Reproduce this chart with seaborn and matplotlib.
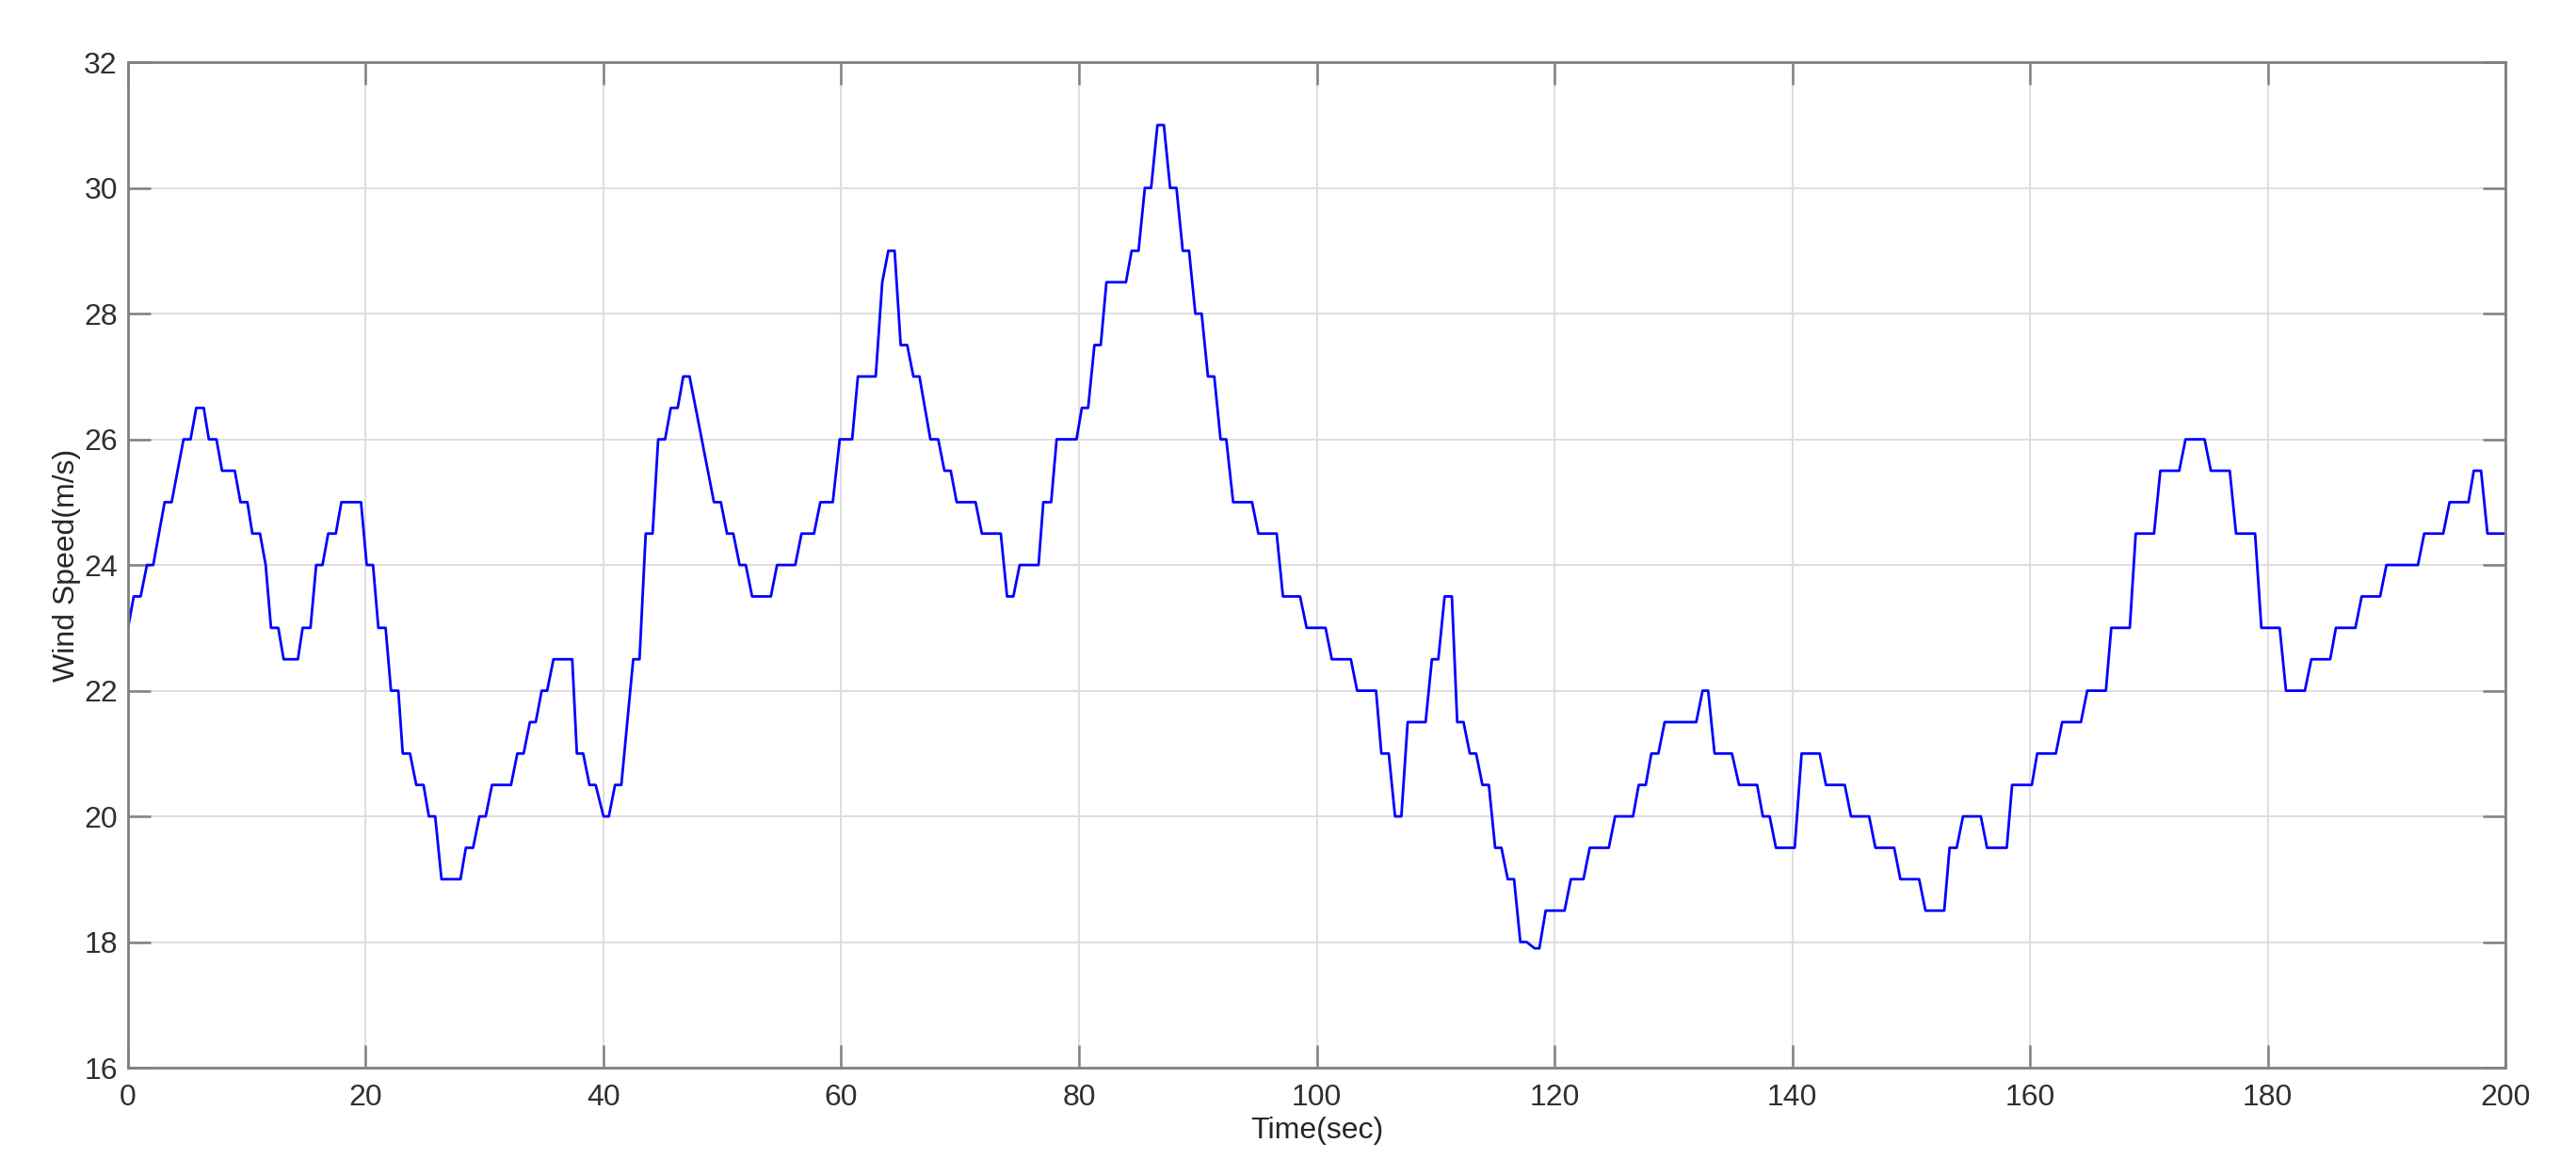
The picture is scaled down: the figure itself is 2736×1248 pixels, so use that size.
import numpy as np
import pandas as pd
import seaborn as sns
import matplotlib.pyplot as plt

# breakpoints of the wind speed trace (time in sec, speed in m/s)
time_sec = [
    0, 0.48, 1.06, 1.59, 2.12, 3.08, 3.67, 4.67, 5.26, 5.74, 6.37, 6.80, 7.44, 7.91,
    8.98, 9.46, 10.04, 10.46, 11.10, 11.58, 12.03, 12.64, 13.09, 14.29, 14.69, 15.35,
    15.83, 16.36, 16.84, 17.48, 17.95, 19.60, 20.08, 20.61, 21.06, 21.67, 22.12, 22.74,
    23.11, 23.72, 24.25, 24.86, 25.31, 25.84, 26.37, 27.97, 28.42, 29.03, 29.56, 30.09,
    30.62, 32.22, 32.75, 33.28, 33.81, 34.30, 34.80, 35.26, 35.79, 37.37, 37.76, 38.29,
    38.82, 39.34, 40.0, 40.45, 40.97, 41.5, 42.5, 43.03, 43.55, 44.13, 44.6, 45.18,
    45.66, 46.24, 46.71, 47.24, 49.29, 49.87, 50.39, 50.92, 51.45, 51.97, 52.5, 54.08,
    54.6, 56.13, 56.66, 57.71, 58.24, 59.29, 59.87, 60.92, 61.4, 62.9, 63.45, 63.96,
    64.49, 65.0, 65.55, 66.07, 66.58, 67.5, 68.16, 68.68, 69.21, 69.71, 71.3, 71.83,
    73.42, 73.95, 74.48, 75.01, 76.6, 77.0, 77.66, 78.12, 79.79, 80.24, 80.77, 81.3,
    81.83, 82.31, 83.95, 84.43, 85.01, 85.54, 86.07, 86.6, 87.14, 87.67, 88.2, 88.73,
    89.26, 89.79, 90.32, 90.85, 91.38, 91.91, 92.39, 92.97, 94.56, 95.09, 96.63, 97.16,
    98.6, 99.15, 100.74, 101.27, 102.87, 103.4, 104.99, 105.44, 106.06, 106.59, 107.12,
    107.65, 109.16, 109.69, 110.23, 110.76, 111.37, 111.82, 112.35, 112.88, 113.41,
    113.94, 114.48, 115.01, 115.54, 116.07, 116.6, 117.13, 117.66, 118.33, 118.73,
    119.26, 120.85, 121.38, 122.44, 122.97, 124.57, 125.1, 126.61, 127.09, 127.68,
    128.15, 128.74, 129.27, 131.93, 132.46, 132.93, 133.47, 134.93, 135.53, 137.05,
    137.53, 138.1, 138.63, 140.21, 140.79, 142.32, 142.84, 144.42, 144.95, 146.47,
    147.0, 148.58, 149.1, 150.68, 151.21, 152.79, 153.24, 153.84, 154.37, 155.87,
    156.39, 158.05, 158.5, 160.16, 160.61, 162.18, 162.71, 164.29, 164.82, 166.39,
    166.84, 168.4, 168.9, 170.44, 170.97, 172.56, 173.09, 174.69, 175.22, 176.81,
    177.34, 178.94, 179.47, 181.01, 181.54, 183.13, 183.67, 185.26, 185.74, 187.38,
    187.91, 189.46, 189.99, 192.64, 193.17, 194.77, 195.3, 196.89, 197.34, 197.95,
    198.49, 200,
]
wind_speed = [
    23, 23.5, 23.5, 24, 24, 25, 25, 26, 26, 26.5, 26.5, 26, 26, 25.5,
    25.5, 25, 25, 24.5, 24.5, 24, 23, 23, 22.5, 22.5, 23, 23,
    24, 24, 24.5, 24.5, 25, 25, 24, 24, 23, 23, 22, 22,
    21, 21, 20.5, 20.5, 20, 20, 19, 19, 19.5, 19.5, 20, 20,
    20.5, 20.5, 21, 21, 21.5, 21.5, 22, 22, 22.5, 22.5, 21, 21,
    20.5, 20.5, 20, 20, 20.5, 20.5, 22.5, 22.5, 24.5, 24.5, 26, 26,
    26.5, 26.5, 27, 27, 25, 25, 24.5, 24.5, 24, 24, 23.5, 23.5,
    24, 24, 24.5, 24.5, 25, 25, 26, 26, 27, 27, 28.5, 29,
    29, 27.5, 27.5, 27, 27, 26, 26, 25.5, 25.5, 25, 25, 24.5,
    24.5, 23.5, 23.5, 24, 24, 25, 25, 26, 26, 26.5, 26.5, 27.5,
    27.5, 28.5, 28.5, 29, 29, 30, 30, 31, 31, 30, 30, 29,
    29, 28, 28, 27, 27, 26, 26, 25, 25, 24.5, 24.5, 23.5,
    23.5, 23, 23, 22.5, 22.5, 22, 22, 21, 21, 20, 20,
    21.5, 21.5, 22.5, 22.5, 23.5, 23.5, 21.5, 21.5, 21, 21,
    20.5, 20.5, 19.5, 19.5, 19, 19, 18, 18, 17.9, 17.9,
    18.5, 18.5, 19, 19, 19.5, 19.5, 20, 20, 20.5, 20.5,
    21, 21, 21.5, 21.5, 22, 22, 21, 21, 20.5, 20.5,
    20, 20, 19.5, 19.5, 21, 21, 20.5, 20.5, 20, 20,
    19.5, 19.5, 19, 19, 18.5, 18.5, 19.5, 19.5, 20, 20,
    19.5, 19.5, 20.5, 20.5, 21, 21, 21.5, 21.5, 22, 22,
    23, 23, 24.5, 24.5, 25.5, 25.5, 26, 26, 25.5, 25.5,
    24.5, 24.5, 23, 23, 22, 22, 22.5, 22.5, 23, 23,
    23.5, 23.5, 24, 24, 24.5, 24.5, 25, 25, 25.5, 25.5,
    24.5, 24.5,
]

x_ticks = list(range(0, 201, 20))
y_ticks = list(range(16, 33, 2))

df = pd.DataFrame({"Time": time_sec, "Speed": wind_speed})

sns.set_style("white")
plt.rcParams["font.family"] = ["Liberation Sans", "DejaVu Sans"]

fig = plt.figure(figsize=(13.68, 6.24), dpi=200)
ax = fig.add_axes([0.0497, 0.0913, 0.9229, 0.8557])

sns.lineplot(data=df, x="Time", y="Speed", sort=False, estimator=None,
             color="#0000ff", linewidth=1.0, ax=ax)

ax.set_xlim(0, 200)
ax.set_ylim(16, 32)
ax.set_xticks(x_ticks)
ax.set_yticks(y_ticks)
ax.grid(True, color="#dedede", linewidth=0.7)
ax.set_axisbelow(True)

for s in ax.spines.values():
    s.set_color("#808080")
    s.set_linewidth(1.0)
ax.tick_params(direction="in", length=8.6, width=0.9, color="#808080",
               labelsize=11.5, labelcolor="#303030",
               top=True, right=True, bottom=True, left=True)
ax.tick_params(axis="x", pad=6)
ax.tick_params(axis="y", pad=4)

ax.set_xlabel("Time(sec)", fontsize=11.5, color="#262626", labelpad=2)
ax.set_ylabel("Wind Speed(m/s)", fontsize=11.5, color="#262626", labelpad=1)

fig.savefig("out.png", dpi=200, facecolor="white")
